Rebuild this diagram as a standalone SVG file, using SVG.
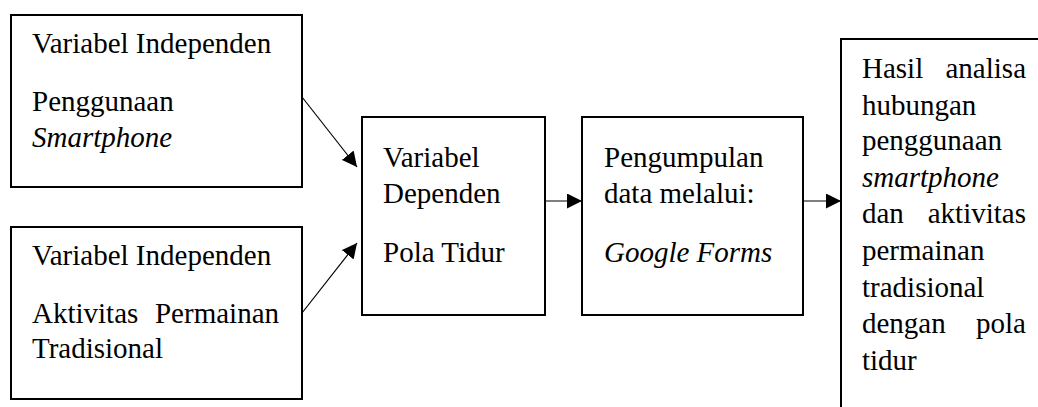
<svg xmlns="http://www.w3.org/2000/svg" width="1038" height="407" viewBox="0 0 1038 407">
<style>
.box{fill:#fff;stroke:#000;stroke-width:2}
.t{font-family:"Liberation Serif","Times New Roman",serif;font-size:29px;fill:#000}
.i{font-style:italic}
.e{text-anchor:end}
.c{stroke:#000;stroke-width:1.2;fill:none}
</style>
<defs>
<marker id="ah" viewBox="0 0 10 10" refX="10" refY="5" markerWidth="15" markerHeight="15" markerUnits="userSpaceOnUse" orient="auto">
<path d="M0,0 L10,5 L0,10 Z" fill="#000"/>
</marker>
</defs>
<rect width="1038" height="407" fill="#fff"/>
<g id="connectors">
<line class="c" x1="302" y1="97" x2="357" y2="167" marker-end="url(#ah)"/>
<line class="c" x1="302" y1="313" x2="357" y2="243" marker-end="url(#ah)"/>
<line class="c" x1="545" y1="201" x2="582" y2="201" marker-end="url(#ah)"/>
<line class="c" x1="803" y1="201" x2="841" y2="201" marker-end="url(#ah)"/>
</g>
<g id="node-smartphone">
<rect class="box" x="11" y="15" width="291" height="172"/>
<text class="t" x="32" y="53">Variabel Independen</text>
<text class="t" x="32" y="111">Penggunaan</text>
<text class="t i" x="32" y="147">Smartphone</text>
</g>
<g id="node-permainan">
<rect class="box" x="11" y="227" width="291" height="172"/>
<text class="t" x="32" y="265">Variabel Independen</text>
<text class="t" x="32" y="323">Aktivitas</text>
<text class="t e" x="279" y="323">Permainan</text>
<text class="t" x="32" y="358">Tradisional</text>
</g>
<g id="node-dependen">
<rect class="box" x="362" y="117" width="183" height="198"/>
<text class="t" x="383" y="167">Variabel</text>
<text class="t" x="383" y="203">Dependen</text>
<text class="t" x="383" y="262">Pola Tidur</text>
</g>
<g id="node-pengumpulan">
<rect class="box" x="582" y="117" width="221" height="198"/>
<text class="t" x="604" y="167">Pengumpulan</text>
<text class="t" x="604" y="203">data melalui:</text>
<text class="t i" x="604" y="262">Google Forms</text>
</g>
<g id="node-hasil">
<rect class="box" x="841" y="39" width="220" height="400"/>
<text class="t" x="862" y="78">Hasil</text>
<text class="t e" x="1026" y="78">analisa</text>
<text class="t" x="862" y="115">hubungan</text>
<text class="t" x="862" y="150">penggunaan</text>
<text class="t i" x="862" y="187">smartphone</text>
<text class="t" x="862" y="223">dan</text>
<text class="t e" x="1026" y="223">aktivitas</text>
<text class="t" x="862" y="260">permainan</text>
<text class="t" x="862" y="297">tradisional</text>
<text class="t" x="862" y="333">dengan</text>
<text class="t e" x="1026" y="333">pola</text>
<text class="t" x="862" y="370">tidur</text>
</g>
</svg>
